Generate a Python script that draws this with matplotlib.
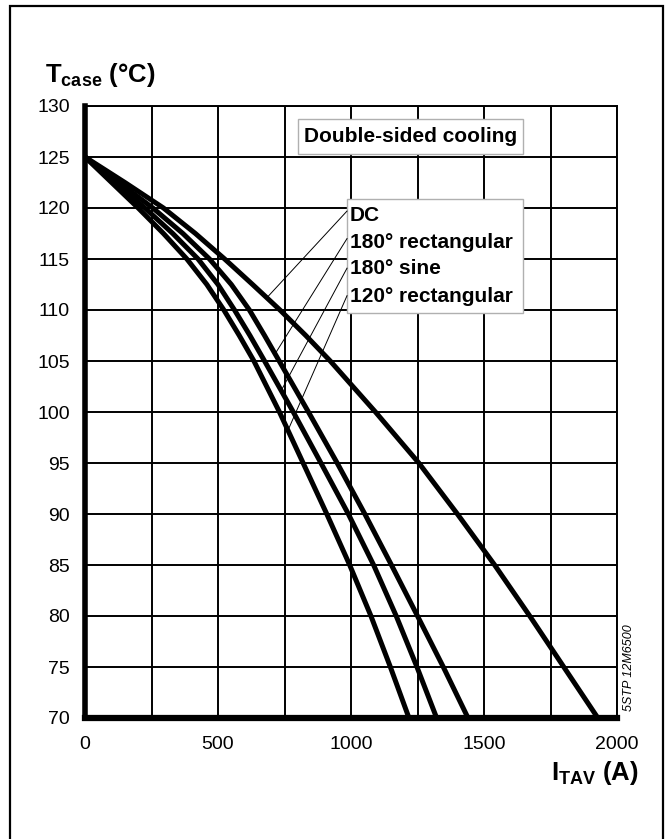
import numpy as np
import matplotlib
matplotlib.use("Agg")
import matplotlib.pyplot as plt
from matplotlib.patches import Rectangle
from matplotlib.ticker import MultipleLocator

plt.rcParams['font.family'] = ['Liberation Sans', 'DejaVu Sans']
plt.rcParams['mathtext.default'] = 'regular'

# ---- data ----
T_case = [125, 122.5, 120, 117.5, 115, 112.5, 110, 107.5, 105, 100, 95, 90, 85, 80, 75, 70]
I_dc = [0, 150, 295, 415, 525, 630, 733, 830, 922, 1092, 1255, 1400, 1540, 1672, 1800, 1928]
I_180rect = [0, 128, 255, 368, 468, 550, 618, 675, 730, 840, 948, 1052, 1152, 1250, 1347, 1440]
I_180sine = [0, 113, 225, 330, 425, 500, 562, 620, 675, 783, 887, 990, 1085, 1170, 1248, 1322]
I_120rect = [0, 100, 200, 295, 383, 458, 522, 580, 635, 731, 820, 909, 995, 1075, 1148, 1218]

series_labels = ["DC", "180° rectangular", "180° sine", "120° rectangular"]
series_values = [I_dc, I_180rect, I_180sine, I_120rect]
leader_T = [111.2, 105.7, 102.1, 98.2]

x_ticks = [0, 500, 1000, 1500, 2000]
y_ticks = [70, 75, 80, 85, 90, 95, 100, 105, 110, 115, 120, 125, 130]

W, H = 668, 839
fig = plt.figure(figsize=(W / 100, H / 100), dpi=100)
ax = fig.add_axes([85 / W, 1 - 718 / H, (617 - 85) / W, (718 - 106) / H])

ax.set_xlim(0, 2000)
ax.set_ylim(70, 130)
ax.set_xticks(x_ticks)
ax.set_yticks(y_ticks)
ax.xaxis.set_minor_locator(MultipleLocator(250))
ax.grid(True, which='both', color='black', linewidth=1.4, zorder=1)
ax.tick_params(which='both', length=0)
ax.tick_params(axis='y', pad=11, labelsize=14)
ax.tick_params(axis='x', pad=13, labelsize=14)

for s in ['top', 'right']:
    ax.spines[s].set_linewidth(1.4)
ax.spines['left'].set_linewidth(4.0)
ax.spines['bottom'].set_linewidth(4.5)
for s in ax.spines.values():
    s.set_zorder(5)

for vals in series_values:
    ax.plot(vals, T_case, color='black', linewidth=3.6,
            solid_joinstyle='round', solid_capstyle='butt', zorder=3, clip_on=False)

# "Double-sided cooling" box
ax.add_patch(Rectangle((801, 125.3), 1647 - 801, 128.7 - 125.3, facecolor='white',
                       edgecolor='#b0b0b0', linewidth=1.0, zorder=4))
ax.text((801 + 1647) / 2, 127.0, "Double-sided cooling", ha='center', va='center',
        fontsize=15, fontweight='bold', zorder=6)

# legend box
ax.add_patch(Rectangle((985, 109.7), 1647 - 985, 120.9 - 109.7, facecolor='white',
                       edgecolor='#b0b0b0', linewidth=1.0, zorder=4))
text_T = [119.28, 116.62, 114.04, 111.30]
start_T = [119.7, 117.0, 114.1, 111.4]
for lab, vals, tT, sT, lT in zip(series_labels, series_values, text_T, start_T, leader_T):
    ax.text(996, tT, lab, ha='left', va='center', fontsize=15, fontweight='bold', zorder=6)
    x_end = np.interp(lT, T_case[::-1], vals[::-1])
    ax.plot([985, x_end], [sT, lT], color='black', linewidth=0.7, zorder=4)

# axis titles
fig.text(45 / W, 1 - 82 / H, r"$\mathregular{T_{case}}$ (°C)", ha='left', va='baseline',
         fontsize=18.5, fontweight='bold')
fig.text(639 / W, 1 - 780 / H, r"$\mathregular{I_{TAV}}$ (A)", ha='right', va='baseline',
         fontsize=18.5, fontweight='bold')

fig.text(629 / W, 1 - 668 / H, "5STP 12M6500", rotation=90, ha='center', va='center',
         fontsize=9, style='italic')

# outer frame
fig.add_artist(Rectangle((10 / W, -0.02), (663 - 10) / W, (839 - 6) / H + 0.02,
                         transform=fig.transFigure, fill=False, edgecolor='black',
                         linewidth=1.6))

fig.savefig("out.png", dpi=100)
